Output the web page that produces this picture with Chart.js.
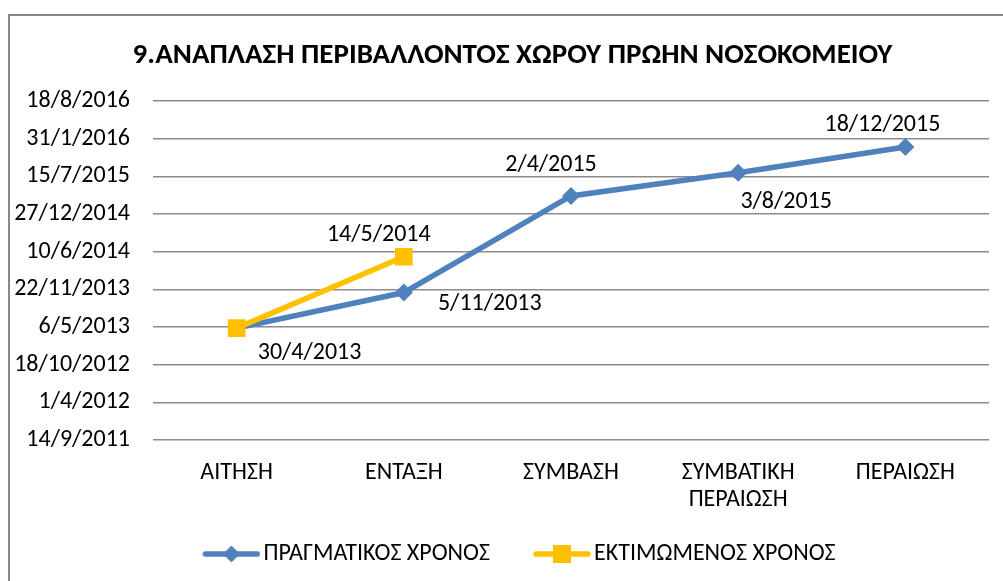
<!DOCTYPE html>
<html>
<head>
<meta charset="utf-8">
<script src="https://cdn.jsdelivr.net/npm/chart.js@4.4.1/dist/chart.umd.min.js"></script>
<style>
  html, body { margin: 0; padding: 0; background: #fff; overflow: hidden; }
  #page { position: relative; width: 1003px; height: 581px; overflow: hidden; }
  #box { position: absolute; left: 8px; top: 14px; width: 1015px; height: 600px; border: 2px solid #888; background: #fff; }
  #chart { position: absolute; left: 0; top: 0; }
</style>
</head>
<body>
<div id="page">
  <div id="box"><canvas id="chart" width="1015" height="580"></canvas></div>
</div>
<script>
// Data
const categories = ["ΑΙΤΗΣΗ", "ΕΝΤΑΞΗ", "ΣΥΜΒΑΣΗ", ["ΣΥΜΒΑΤΙΚΗ", "ΠΕΡΑΙΩΣΗ"], "ΠΕΡΑΙΩΣΗ"];
const actualDates = ["30/4/2013", "5/11/2013", "2/4/2015", "3/8/2015", "18/12/2015"];
const estimatedDates = ["30/4/2013", "14/5/2014", null, null, null];
const seriesNames = ["ΠΡΑΓΜΑΤΙΚΟΣ ΧΡΟΝΟΣ", "ΕΚΤΙΜΩΜΕΝΟΣ ΧΡΟΝΟΣ"];
const titleText = "9.ΑΝΑΠΛΑΣΗ ΠΕΡΙΒΑΛΛΟΝΤΟΣ ΧΩΡΟΥ ΠΡΩΗΝ ΝΟΣΟΚΟΜΕΙΟΥ";
// y axis in excel day numbers: 14/9/2011 .. 18/8/2016 every 200 days
const yMin = 40800, yMax = 42600, yStep = 200;

// where each data label sits next to its point [dx, dy]
const actualLabelPos = [[73, 25], [86, 11], [-20, -31], [48, 29], [-23, -22]];
const estimatedLabelPos = [null, [-25, -22], null, null, null];

const BLUE = "#4F81BD";
const YELLOW = "#FFC000";
const FONT = "Carlito, Calibri, Lato, 'Liberation Sans Narrow', sans-serif";

// dd/mm/yyyy <-> excel serial
function toSerial(s) {
    if (!s) return null;
    const p = s.split("/").map(Number);
    return Date.UTC(p[2], p[1] - 1, p[0]) / 86400000 + 25569;
}
function fromSerial(n) {
    const d = new Date((n - 25569) * 86400000);
    return d.getUTCDate() + "/" + (d.getUTCMonth() + 1) + "/" + d.getUTCFullYear();
}

// legend icon: line with marker in the middle (left part transparent, keeps spacing like excel)
function legendIcon(color, shape) {
    const c = document.createElement("canvas");
    c.width = 80; c.height = 20;
    const g = c.getContext("2d");
    g.strokeStyle = color; g.lineWidth = 5.5; g.lineCap = "round";
    g.beginPath(); g.moveTo(25, 10); g.lineTo(77, 10); g.stroke();
    g.fillStyle = color;
    g.beginPath();
    if (shape === "diamond") {
        g.moveTo(51, 1.5); g.lineTo(59.5, 10); g.lineTo(51, 18.5); g.lineTo(42.5, 10);
    } else {
        g.rect(42, 1, 18, 18);
    }
    g.closePath(); g.fill();
    return c;
}
const icons = [legendIcon(BLUE, "diamond"), legendIcon(YELLOW, "square")];

// data labels
const labelPlugin = {
    id: "pointLabels",
    afterDatasetsDraw(chart) {
        const ctx = chart.ctx;
        ctx.save();
        ctx.font = "24px " + FONT;
        ctx.fillStyle = "#000";
        ctx.textAlign = "center";
        ctx.textBaseline = "middle";
        const all = [[actualDates, actualLabelPos], [estimatedDates, estimatedLabelPos]];
        all.forEach((pair, di) => {
            const meta = chart.getDatasetMeta(di);
            pair[0].forEach((txt, i) => {
                const pos = pair[1][i];
                if (!txt || !pos) return;
                const pt = meta.data[i];
                ctx.fillText(txt, pt.x + pos[0], pt.y + pos[1]);
            });
        });
        ctx.restore();
    }
};

// y labels stick out into the left padding, so widen the scale box after layout (no clipping)
const yLabelRoom = {
    id: "yLabelRoom",
    afterLayout(chart) {
        chart.scales.y.left = 0;
    }
};

new Chart(document.getElementById("chart"), {
    type: "line",
    data: {
        labels: categories,
        datasets: [
            {
                label: seriesNames[0],
                data: actualDates.map(toSerial),
                borderColor: BLUE,
                backgroundColor: BLUE,
                borderWidth: 5.5,
                pointStyle: "rectRot",
                pointRadius: 9,
                pointBorderWidth: 0,
                tension: 0,
                order: 1
            },
            {
                label: seriesNames[1],
                data: estimatedDates.map(toSerial),
                borderColor: YELLOW,
                backgroundColor: YELLOW,
                borderWidth: 5.5,
                pointStyle: "rect",
                pointRadius: 12.5,
                pointBorderWidth: 0,
                tension: 0,
                order: 0
            }
        ]
    },
    options: {
        responsive: false,
        animation: false,
        layout: { padding: { left: 26, right: 36, top: 0, bottom: 20 } },
        plugins: {
            tooltip: { enabled: false },
            title: {
                display: true,
                text: titleText,
                color: "#000",
                font: { family: FONT, size: 29, weight: "bold" },
                padding: { top: 22.6, bottom: 27.6 }
            },
            legend: {
                position: "bottom",
                labels: {
                    usePointStyle: true,
                    pointStyleWidth: 62,
                    color: "#000",
                    font: { family: FONT, size: 24 },
                    padding: 30,
                    sort: (a, b) => a.datasetIndex - b.datasetIndex,
                    generateLabels: (chart) => chart.data.datasets.map((ds, i) => ({
                        text: ds.label,
                        pointStyle: icons[i],
                        fillStyle: ds.borderColor,
                        strokeStyle: ds.borderColor,
                        lineWidth: 0,
                        fontColor: "#000",
                        datasetIndex: i,
                        hidden: false
                    }))
                }
            }
        },
        scales: {
            x: {
                offset: true,
                grid: { display: false },
                border: { display: false },
                afterFit: (s) => { s.height = 72; },
                ticks: { color: "#000", font: { family: FONT, size: 24, lineHeight: 1.13 }, padding: 11.5, maxRotation: 0, autoSkip: false }
            },
            y: {
                min: yMin,
                max: yMax,
                afterFit: (s) => { s.width = 117; },
                afterBuildTicks: (s) => {
                    const t = [];
                    for (let v = yMin; v <= yMax; v += yStep) t.push({ value: v });
                    s.ticks = t;
                },
                grid: { color: "#8c8c8c", lineWidth: 1.5, drawTicks: false },
                border: { display: false },
                ticks: {
                    color: "#000",
                    font: { family: FONT, size: 24 },
                    padding: 23,
                    callback: (v) => fromSerial(v)
                }
            }
        }
    },
    plugins: [labelPlugin, yLabelRoom]
});
</script>
</body>
</html>
